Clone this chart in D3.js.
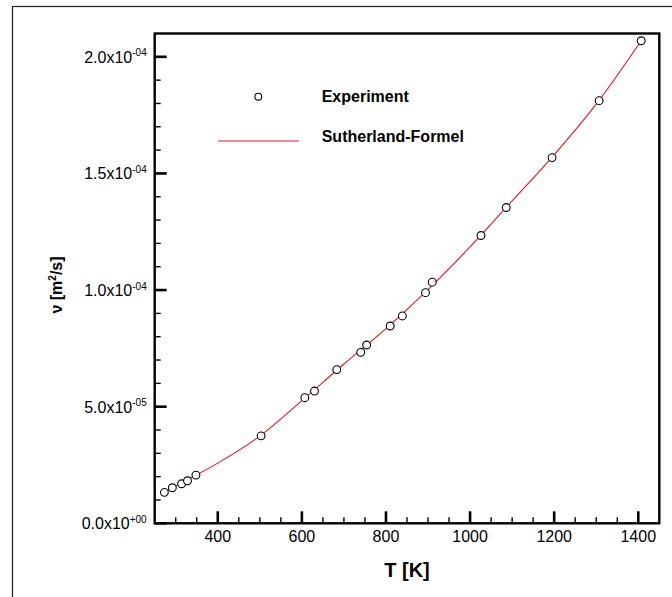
<!DOCTYPE html>
<html>
<head>
<meta charset="utf-8">
<script src="https://cdn.jsdelivr.net/npm/d3@7"></script>
<style>
  html, body { margin: 0; padding: 0; background: #fff; color: #000; }
  svg { display: block; font-family: "Liberation Sans", Arial, sans-serif; }
</style>
</head>
<body>
<svg id="chart" width="672" height="597" viewBox="0 0 672 597"></svg>
<script>
// Measured kinematic viscosity of air
const expT  = [273, 292, 314, 328, 348, 503, 607, 630, 683, 740, 754, 810, 839, 894, 910, 1026, 1086, 1195, 1307, 1407];
const expNu = [1.327e-5, 1.524e-5, 1.695e-5, 1.824e-5, 2.067e-5, 3.75e-5, 5.385e-5, 5.67e-5, 6.59e-5, 7.33e-5,
               7.645e-5, 8.46e-5, 8.89e-5, 9.89e-5, 1.034e-4, 1.234e-4, 1.354e-4, 1.568e-4, 1.812e-4, 2.069e-4];

// Sutherland law curve
const sutT  = [270, 300, 350, 400, 500, 600, 700, 800, 900, 1000, 1100, 1200, 1300, 1407];
const sutNu = [1.31e-5, 1.60e-5, 2.08e-5, 2.58e-5, 3.74e-5, 5.26e-5, 6.83e-5, 8.35e-5, 10.02e-5,
               11.85e-5, 13.82e-5, 15.80e-5, 17.97e-5, 20.69e-5];

// Axis ticks
const xMajor = [400, 600, 800, 1000, 1200, 1400];
const xMinor = [300, 350, 450, 500, 550, 650, 700, 750, 850, 900, 950, 1050, 1100, 1150, 1250, 1300, 1350];
const yMajor = [0, 5e-5, 1e-4, 1.5e-4, 2e-4];
const yMinor = [1e-5, 2e-5, 3e-5, 4e-5, 6e-5, 7e-5, 8e-5, 9e-5, 1.1e-4, 1.2e-4, 1.3e-4, 1.4e-4,
                1.6e-4, 1.7e-4, 1.8e-4, 1.9e-4];

const legendLabels = ["Experiment", "Sutherland-Formel"];
const xTitle = "T [K]";

const red = "#e0161c";
const svg = d3.select("#chart");

svg.append("rect").attr("width", 672).attr("height", 597).attr("fill", "#fff");

// outer frame
svg.append("rect")
  .attr("x", 12.5).attr("y", 6.5).attr("width", 700).attr("height", 700)
  .attr("fill", "none").attr("stroke", "#222").attr("stroke-width", 1.2);

const x = d3.scaleLinear().domain([250, 1450]).range([154.7, 659.3]);
const y = d3.scaleLinear().domain([0, 2.1e-4]).range([523.3, 33.5]);

// plot box
svg.append("rect")
  .attr("x", x(250)).attr("y", y(2.1e-4))
  .attr("width", x(1450) - x(250)).attr("height", y(0) - y(2.1e-4))
  .attr("fill", "none").attr("stroke", "#000").attr("stroke-width", 2.4);

// x tick labels
svg.selectAll("text.xl").data(xMajor).join("text").attr("class", "xl")
  .attr("x", d => x(d)).attr("y", y(0) + 19)
  .attr("text-anchor", "middle").attr("font-size", 16).attr("fill", "#000")
  .text(d3.format("d"));

// y tick labels in Tecplot style: m.mx10^eee
function sci(v) {
  if (v === 0) return ["0.0x10", "+00"];
  const e = Math.floor(Math.log10(v) + 1e-9);
  const m = v / Math.pow(10, e);
  const s = e < 0 ? "-" : "+";
  return [m.toFixed(1) + "x10", s + String(Math.abs(e)).padStart(2, "0")];
}
yMajor.forEach(v => {
  const [mant, ex] = sci(v);
  const t = svg.append("text")
    .attr("x", 146.7).attr("y", y(v) + 6)
    .attr("text-anchor", "end").attr("font-size", 16).attr("fill", "#000");
  t.append("tspan").text(mant);
  t.append("tspan").attr("dy", -6.5).attr("font-size", 10).text(ex);
});

// axis titles
svg.append("text")
  .attr("x", (x(250) + x(1450)) / 2).attr("y", 577)
  .attr("text-anchor", "middle").attr("font-size", 20).attr("font-weight", "bold")
  .text(xTitle);

const yt = svg.append("text")
  .attr("transform", "translate(62,285) rotate(-90)")
  .attr("text-anchor", "middle").attr("font-size", 16).attr("font-weight", "bold");
yt.append("tspan").text("ν [m");
yt.append("tspan").attr("dy", -6).attr("font-size", 10).text("2");
yt.append("tspan").attr("dy", 6).text("/s]");

// Sutherland curve
const line = d3.line()
  .x((d, i) => x(sutT[i]))
  .y(d => y(d))
  .curve(d3.curveMonotoneX);
svg.append("path")
  .attr("d", line(sutNu))
  .attr("fill", "none").attr("stroke", red).attr("stroke-width", 1.1);

// experiment markers
svg.append("g").selectAll("circle")
  .data(expNu)
  .join("circle")
  .attr("cx", (d, i) => x(expT[i]))
  .attr("cy", d => y(d))
  .attr("r", 3.9)
  .attr("fill", "#fff").attr("stroke", "#000").attr("stroke-width", 1.1);

// legend
svg.append("circle")
  .attr("cx", 258.3).attr("cy", 96.7).attr("r", 3.4)
  .attr("fill", "#fff").attr("stroke", "#000").attr("stroke-width", 1.1);
svg.append("line")
  .attr("x1", 218).attr("x2", 299).attr("y1", 141).attr("y2", 141)
  .attr("stroke", red).attr("stroke-width", 1.1);
svg.selectAll("text.leg")
  .data(legendLabels)
  .join("text")
  .attr("class", "leg")
  .attr("x", 321.7)
  .attr("y", (d, i) => [102.3, 141.7][i])
  .attr("font-size", 16).attr("font-weight", "bold")
  .text(d => d);

// inward tick marks on the bottom and left edges, drawn on top
const tickLayer = svg.append("g").attr("class", "ticks");
const tickData = [
  ...xMinor.map(v => ({ axis: "x", v, len: 6, w: 1.4 })),
  ...xMajor.map(v => ({ axis: "x", v, len: 12, w: 2.6 })),
  ...yMinor.map(v => ({ axis: "y", v, len: 6, w: 1.4 })),
  ...yMajor.map(v => ({ axis: "y", v, len: 12, w: 2.6 }))
];
tickLayer.selectAll("line")
  .data(tickData)
  .join("line")
  .attr("x1", d => d.axis === "x" ? x(d.v) : x(250))
  .attr("x2", d => d.axis === "x" ? x(d.v) : x(250) + d.len)
  .attr("y1", d => d.axis === "x" ? y(0) : y(d.v))
  .attr("y2", d => d.axis === "x" ? y(0) - d.len : y(d.v))
  .attr("stroke", "#000")
  .attr("stroke-width", d => d.w);
</script>
</body>
</html>
